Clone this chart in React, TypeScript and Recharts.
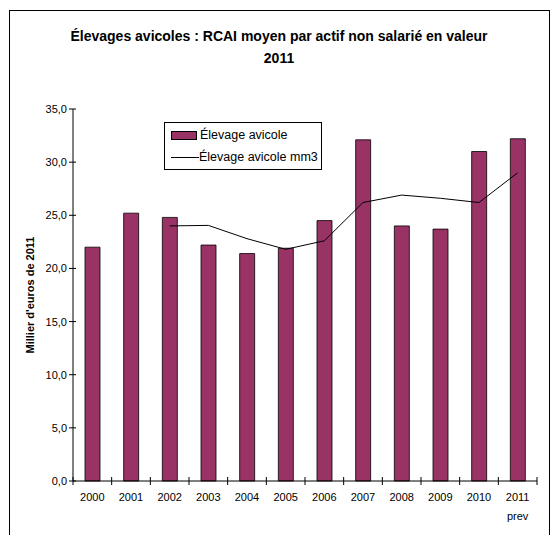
import {
  Bar,
  ComposedChart,
  Legend,
  Line,
  XAxis,
  YAxis,
} from "recharts";

const years = ["2000", "2001", "2002", "2003", "2004", "2005", "2006", "2007", "2008", "2009", "2010", "2011"];
const yearNotes = ["", "", "", "", "", "", "", "", "", "", "", "prev"];
const elevage = [22.0, 25.2, 24.8, 22.2, 21.4, 21.9, 24.5, 32.1, 24.0, 23.7, 31.0, 32.2];
const elevageMm3 = [null, null, 24.0, 24.05, 22.8, 21.8, 22.6, 26.2, 26.9, 26.6, 26.2, 29.0];
const yTicks = [0, 5, 10, 15, 20, 25, 30, 35];

const data = years.map((year, i) => ({
  year,
  note: yearNotes[i],
  elevage: elevage[i],
  mm3: elevageMm3[i],
}));

const FONT = "'Liberation Sans', Arial, sans-serif";
const PLOT_LEFT = 73;
const PLOT_RIGHT = 537;
const BAND = (PLOT_RIGHT - PLOT_LEFT) / years.length;
const BAR_COLOR = "#993366";

function YTick({ x, y, payload }: any) {
  return (
    <g>
      <line x1={x - 4} x2={x + 3} y1={y} y2={y} stroke="#000" />
      <text x={x - 6} y={y} dy={4} textAnchor="end" fontSize={11} fontFamily={FONT} fill="#000">
        {payload.value.toFixed(1).replace(".", ",")}
      </text>
    </g>
  );
}

function XTick({ x, y, payload, index }: any) {
  const note = yearNotes[index];
  return (
    <g>
      <line x1={x - BAND / 2} x2={x - BAND / 2} y1={y - 4} y2={y + 4} stroke="#000" />
      {index === years.length - 1 && (
        <line x1={x + BAND / 2} x2={x + BAND / 2} y1={y - 4} y2={y + 4} stroke="#000" />
      )}
      <text x={x} y={y + 20} textAnchor="middle" fontSize={11} fontFamily={FONT} fill="#000">
        {payload.value}
      </text>
      {note && (
        <text x={x} y={y + 39} textAnchor="middle" fontSize={11} fontFamily={FONT} fill="#000">
          {note}
        </text>
      )}
    </g>
  );
}

function LegendBox() {
  const row = { display: "flex", alignItems: "center", height: 22 } as const;
  return (
    <div style={{ fontFamily: FONT, fontSize: 12.5, color: "#000", padding: "1px 0 1px 6px" }}>
      <div style={row}>
        <span
          style={{
            display: "inline-block",
            width: 24,
            height: 7,
            background: BAR_COLOR,
            border: "1px solid #000",
            marginRight: 3,
          }}
        />
        Élevage avicole
      </div>
      <div style={row}>
        <span style={{ display: "inline-block", width: 28, height: 1, background: "#000", marginRight: 0 }} />
        Élevage avicole mm3
      </div>
    </div>
  );
}

export default function App() {
  return (
    <div
      style={{
        position: "absolute",
        left: 0,
        top: 0,
        width: 555,
        height: 535,
        overflow: "hidden",
        background: "#fff",
      }}
    >
      <div
        style={{
          position: "absolute",
          left: 9,
          top: 10,
          width: 539,
          height: 600,
          border: "1px solid #000",
        }}
      />
      <div
        style={{
          position: "absolute",
          left: 0,
          top: 25,
          width: 558,
          textAlign: "center",
          fontFamily: FONT,
          fontWeight: "bold",
          fontSize: 14,
          lineHeight: "22px",
          color: "#000",
        }}
      >
        Élevages avicoles : RCAI moyen par actif non salarié en valeur
        <br />
        2011
      </div>
      <ComposedChart
        width={555}
        height={535}
        data={data}
        margin={{ top: 109, right: 18, bottom: 14, left: 28 }}
        barCategoryGap="30%"
      >
        <XAxis
          dataKey="year"
          height={40}
          interval={0}
          tickSize={0}
          tickMargin={0}
          axisLine={{ stroke: "#000" }}
          tickLine={false}
          tick={<XTick />}
        />
        <XAxis xAxisId="top" orientation="top" dataKey="year" height={0} tick={false} tickLine={false} axisLine={{ stroke: "#999" }} />
        <YAxis
          domain={[0, 35]}
          ticks={yTicks}
          width={45}
          tickSize={0}
          tickMargin={0}
          axisLine={{ stroke: "#000" }}
          tickLine={false}
          tick={<YTick />}
          label={{
            value: "Millier d'euros de 2011",
            angle: -90,
            position: "insideLeft",
            offset: 2,
            style: { fontFamily: FONT, fontSize: 11, fontWeight: "bold", fill: "#000", textAnchor: "middle" },
          }}
        />
        <YAxis yAxisId="right" orientation="right" width={0} tick={false} tickLine={false} axisLine={{ stroke: "#999" }} />
        <Legend
          layout="horizontal"
          verticalAlign="middle"
          align="center"
          wrapperStyle={{
            left: 164,
            top: 122,
            width: 156,
            border: "1px solid #000",
            background: "#fff",
          }}
          content={() => <LegendBox />}
        />
        <Bar
          dataKey="elevage"
          name="Élevage avicole"
          fill={BAR_COLOR}
          stroke="#000"
          strokeWidth={0.8}
          barSize={15}
          isAnimationActive={false}
        />
        <Line
          dataKey="mm3"
          name="Élevage avicole mm3"
          stroke="#000"
          strokeWidth={1}
          dot={false}
          activeDot={false}
          isAnimationActive={false}
        />
      </ComposedChart>
    </div>
  );
}
